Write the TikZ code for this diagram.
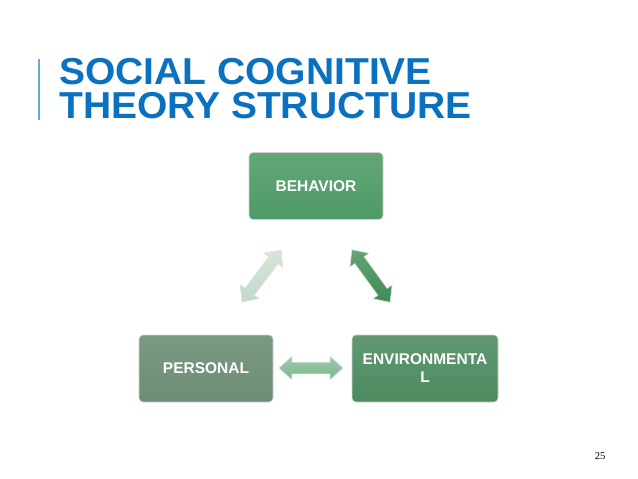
\documentclass[tikz,border=0pt]{standalone}
\usepackage{fontspec}
\setmainfont{Liberation Sans}
\newfontfamily\pagenumfont{Liberation Serif}
\usetikzlibrary{shapes.arrows}

\definecolor{titleblue}{RGB}{10,112,192}
\definecolor{barblue}{RGB}{100,168,214}
\definecolor{behgreen}{RGB}{78,154,102}
\definecolor{pergreen}{RGB}{108,142,116}
\definecolor{envgreen}{RGB}{76,138,95}
\definecolor{arrlight}{RGB}{196,218,201}
\definecolor{arrmid}{RGB}{124,184,142}
\definecolor{arrdark}{RGB}{62,140,86}

\begin{document}
\begin{tikzpicture}[x=1pt,y=-1pt,
  titlenode/.style={anchor=base west,inner sep=0pt,text=titleblue,
    text height=27pt,text depth=0pt,xscale=1.04,transform shape,
    font=\fontsize{37.5}{40}\selectfont\bfseries},
  boxnode/.style={draw=black!18,line width=0.6pt,rounded corners=4pt,
    minimum height=67pt,inner sep=2pt,text=white,align=center,
    font=\fontsize{15.5}{18}\selectfont\bfseries},
  arr/.style={shape=double arrow,draw=black!12,line width=0.6pt,
    inner xsep=0pt,inner ysep=5.5pt,minimum height=65pt,
    double arrow head extend=6pt,double arrow tip angle=85}]
\useasboundingbox (0,0) rectangle (638,479);
% title
\draw[barblue,line width=1.2pt] (39,59) coordinate (bartop) -- (39,120) coordinate (barbot);
\node[titlenode] (t1) at (59,84) {SOCIAL COGNITIVE};
\node[titlenode] (t2) at (59,118) {THEORY STRUCTURE};
% boxes
\node[boxnode,minimum width=134pt,top color=behgreen!88!white,bottom color=behgreen] (beh) at (316,186) {BEHAVIOR};
\node[boxnode,minimum width=134pt,top color=pergreen!90!white,bottom color=pergreen] (per) at (206,368.5) {PERSONAL};
\node[boxnode,minimum width=146pt,top color=envgreen!88!white,bottom color=envgreen] (env) at (425,368.5) {ENVIRONMENTA\\L};
% arrows between them
\node[arr,rotate=53,top color=arrlight!70!white,bottom color=arrlight] (a1) at (261.5,276) {};
\node[arr,rotate=-54,top color=arrdark!80!white,bottom color=arrdark] (a2) at (371,276) {};
\node[arr,minimum height=64pt,top color=arrmid!75!white,bottom color=arrmid] (a3) at (311,368) {};
% page number
\node[inner sep=0pt,font=\pagenumfont\fontsize{10.5}{12}\selectfont] (pg) at (600,456.5) {25};
\end{tikzpicture}
\end{document}
